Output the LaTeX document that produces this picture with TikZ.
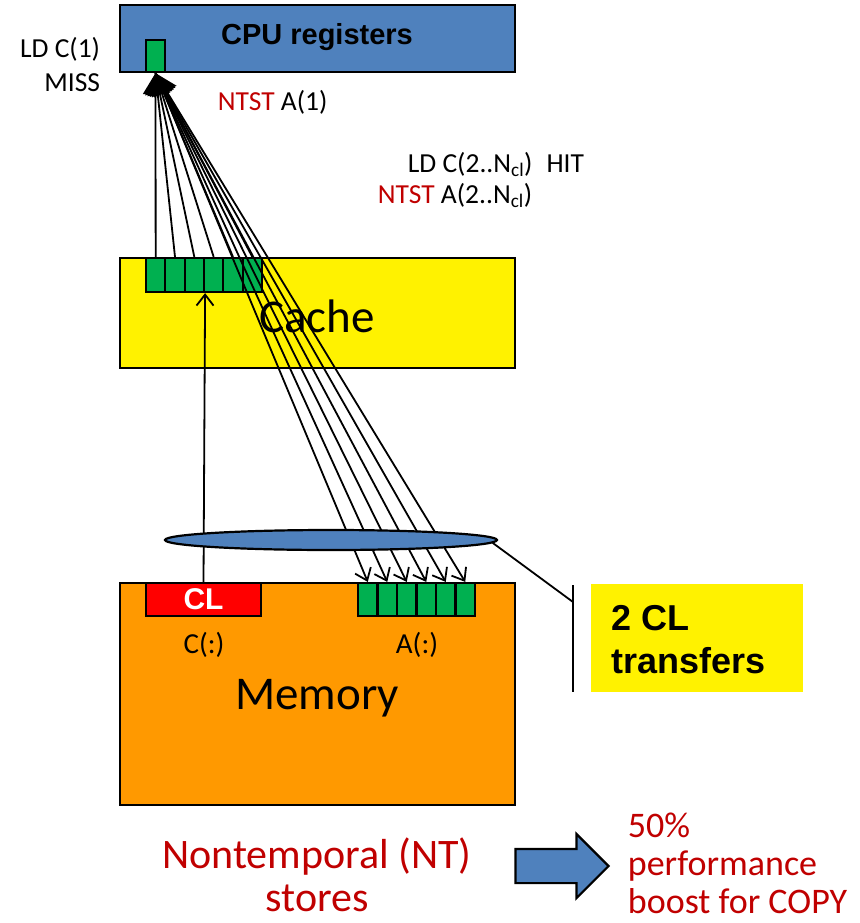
\documentclass[tikz,border=0pt]{standalone}
\usepackage{fontspec}
\setmainfont{Carlito}
\newfontfamily\arialfont{Liberation Sans}
\usepackage{xcolor}
\usetikzlibrary{arrows.meta,shapes.geometric,shapes.arrows,positioning}
\definecolor{regblue}{HTML}{4F81BD}
\definecolor{cellgreen}{HTML}{00B050}
\definecolor{memorange}{HTML}{FF9900}
\definecolor{ntred}{HTML}{C00000}
\newcommand{\fs}[1]{\fontsize{#1}{#1}\selectfont}

\begin{document}
\begin{tikzpicture}[x=1pt,y=-1pt,line width=1.8pt]
  \tikzstyle{box}=[draw,line width=2.2pt,inner sep=0pt,minimum width=395pt]
  \tikzstyle{cell}=[draw,line width=2.2pt,fill=cellgreen,inner sep=0pt,minimum width=19.33pt,minimum height=34pt]
  \tikzstyle{lbl}=[inner sep=0pt,font=\fs{27.5}]
  \tikzstyle{big}=[inner sep=0pt,font=\fs{47}]
  \tikzstyle{note}=[inner sep=0pt,text=ntred]
  \tikzstyle{bold}=[inner sep=0pt,font=\arialfont\bfseries\fs{36}]
  \useasboundingbox (0,0) rectangle (859,923);
  % boxes
  \node[box,fill=regblue,minimum height=67pt] (cpu) at (317.5,38.5) {};
  \node[box,fill=yellow,minimum height=110pt] (cache) at (317.5,313) {};
  \node[box,fill=memorange,minimum height=222pt] (mem) at (317.5,694) {};
  \node[inner sep=0pt,font=\arialfont\bfseries\fs{29},anchor=base] (cputxt) at (317,45) {CPU registers};
  \node[big,anchor=base] (cachetxt) at (317,332) {Cache};
  \node[big,anchor=base] (memtxt) at (317,709) {Memory};
  % register and cache lines
  \node[cell,minimum width=19pt,minimum height=32pt] (reg) at (155.5,56) {};
  \foreach \i in {0,...,5}
    \node[cell] (c\i) at ({155.67+19.33*\i},275) {};
  \node[box,fill=red,minimum width=115pt,minimum height=33pt,text=white,
        font=\arialfont\bfseries\fs{30}] (cl) at (203.5,599.5) {CL};
  \foreach \i in {0,...,5}
    \node[cell,minimum width=19.5pt,minimum height=33pt] (a\i) at ({367.75+19.5*\i},599.5) {};
  \node[inner sep=0pt,font=\fs{29},anchor=base] (ctxt) at (204,653) {C(:)};
  \node[inner sep=0pt,font=\fs{29},anchor=base] (atxt) at (417,653) {A(:)};
  % transfers
  \foreach \i in {0,...,5}
    \draw[-{Triangle[length=21pt,width=25pt]}] (c\i.north) -- (reg.south);
  \foreach \i in {0,...,5}
    \draw[-{Straight Barb[length=11pt,width=17pt]}] (reg.south) -- (a\i.north);
  \draw[-{Straight Barb[length=11pt,width=17pt]}] (cl.north) -- (c2.south east);
  \node[draw,ellipse,fill=regblue,line width=2.2pt,minimum width=332pt,
        minimum height=20pt,inner sep=0pt] (bus) at (331,540) {};
  \coordinate (barmid) at (573,602);
  \coordinate (bartop) at (573,585);
  \coordinate (barbot) at (573,692);
  \draw (bus.-1.5) -- (barmid);
  \draw (bartop) -- (barbot);
  \node[fill=yellow,minimum width=212pt,minimum height=108pt,inner sep=0pt] (cltrans) at (697,638) {};
  \node[bold,anchor=base west] (twocl) at (611,630) {2 CL};
  \node[bold,anchor=base west] (transtxt) at (611,673) {transfers};
  % labels
  \node[lbl,anchor=base east] (ldc) at (101,58) {LD C(1)};
  \node[lbl,anchor=base east] (miss) at (101,92) {MISS};
  \node[lbl,anchor=base west] (ntst) at (217,111) {{\color{ntred}NTST} A(1)};
  \node[lbl,anchor=base west] (ldhit) at (407,172) {LD C(2..N\textsubscript{cl})\hspace{14pt}HIT};
  \node[lbl,anchor=base west] (ntsthit) at (377,203) {{\color{ntred}NTST} A(2..N\textsubscript{cl})};
  % bottom
  \node[note,font=\fs{42},anchor=base] (nt) at (317,868) {Nontemporal (NT)};
  \node[note,font=\fs{42},anchor=base] (stores) at (317,911) {stores};
  \node[single arrow,draw,fill=regblue,line width=2.2pt,minimum height=93pt,
        single arrow head extend=15pt,inner xsep=0pt,inner ysep=16pt] (gain) at (553.5,866) {};
  \node[note,font=\fs{36},anchor=base west] (pct) at (627,837) {50\%};
  \node[note,font=\fs{36},anchor=base west] (perf) at (627,875) {performance};
  \node[note,font=\fs{36},anchor=base west] (boost) at (627,913) {boost for COPY};
\end{tikzpicture}
\end{document}
